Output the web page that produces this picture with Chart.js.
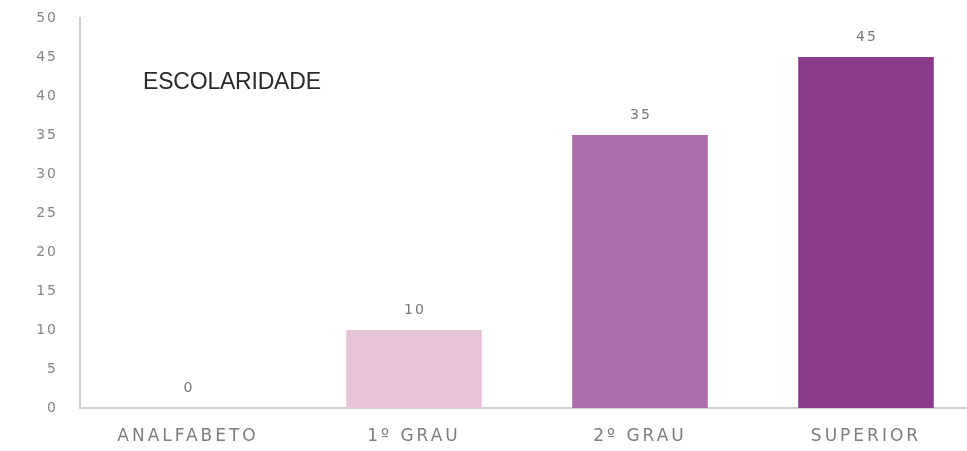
<!DOCTYPE html>
<html><head><meta charset="utf-8">
<script src="https://cdn.jsdelivr.net/npm/chart.js@4/dist/chart.umd.min.js"></script>
<style>
html,body{margin:0;padding:0;background:#fff;}
#wrap{position:relative;width:967px;height:451px;}
#title{position:absolute;left:143px;top:70px;font-family:"Liberation Sans",Arial,sans-serif;font-size:23px;line-height:1;color:#2a2a2a;letter-spacing:-0.2px;}
</style></head>
<body>
<div id="wrap"><canvas id="c" width="967" height="451"></canvas><div id="title">ESCOLARIDADE</div></div>
<script>
const categories = ["ANALFABETO", "1º GRAU", "2º GRAU", "SUPERIOR"];
const values = [0, 10, 35, 45];
const barColors = ["#d9c3d6", "#e7c3d8", "#ab6cab", "#8a3a8b"];
const yTicks = [0, 5, 10, 15, 20, 25, 30, 35, 40, 45, 50];
const xPositions = [0, 1, 2, 3];

const FONT = '"DejaVu Sans", Arial, sans-serif';

const spacingPlugin = {
  id: 'spacing',
  beforeDraw(chart) { chart.ctx.letterSpacing = '3px'; }
};

const yLabelPlugin = {
  id: 'yLabels',
  afterDraw(chart) {
    const ctx = chart.ctx;
    const y = chart.scales.y;
    ctx.save();
    ctx.letterSpacing = '2px';
    ctx.font = '14px ' + FONT;
    ctx.fillStyle = '#858585';
    ctx.textAlign = 'right';
    ctx.textBaseline = 'middle';
    yTicks.forEach(v => {
      ctx.fillText(String(v), 58, y.getPixelForValue(v));
    });
    ctx.restore();
  }
};

const labelPlugin = {
  id: 'valLabels',
  afterDatasetsDraw(chart) {
    const ctx = chart.ctx;
    const meta = chart.getDatasetMeta(0);
    ctx.save();
    ctx.letterSpacing = '2px';
    ctx.font = '14px ' + FONT;
    ctx.fillStyle = '#777';
    ctx.textAlign = 'center';
    ctx.textBaseline = 'middle';
    meta.data.forEach((bar, i) => {
      ctx.fillText(String(values[i]), bar.x + 1, bar.y - 20);
    });
    ctx.restore();
  }
};

new Chart(document.getElementById('c'), {
  type: 'bar',
  data: {
    datasets: [{
      data: values.map((v, i) => ({ x: xPositions[i], y: v })),
      backgroundColor: barColors,
      borderWidth: 0,
      categoryPercentage: 0.6,
      barPercentage: 1.0
    }]
  },
  options: {
    responsive: false,
    animation: false,
    devicePixelRatio: 1,
    layout: { padding: { left: 10, right: 0, top: 18, bottom: 0 } },
    plugins: { legend: { display: false }, tooltip: { enabled: false } },
    scales: {
      y: {
        min: 0, max: 50,
        afterBuildTicks(axis) { axis.ticks = yTicks.map(v => ({ value: v })); },
        afterFit(axis) { axis.width = 70; },
        grid: { display: false, drawTicks: false },
        border: { display: true, color: '#cfcfcf', width: 2 },
        ticks: { display: false, padding: 0 }
      },
      x: {
        type: 'linear',
        offset: false,
        min: -0.478, max: 3.447,
        afterBuildTicks(axis) { axis.ticks = xPositions.map(v => ({ value: v })); },
        afterFit(axis) { axis.height = 43; },
        grid: { display: false, drawTicks: false, offset: false },
        border: { display: true, color: '#cfcfcf', width: 2 },
        ticks: { color: '#7d7d7d', font: { size: 17, family: FONT }, padding: 18, maxRotation: 0, autoSkip: false,
          callback: (v) => categories[v] !== undefined ? categories[v] : '' }
      }
    }
  },
  plugins: [spacingPlugin, yLabelPlugin, labelPlugin]
});
</script>
</body></html>
